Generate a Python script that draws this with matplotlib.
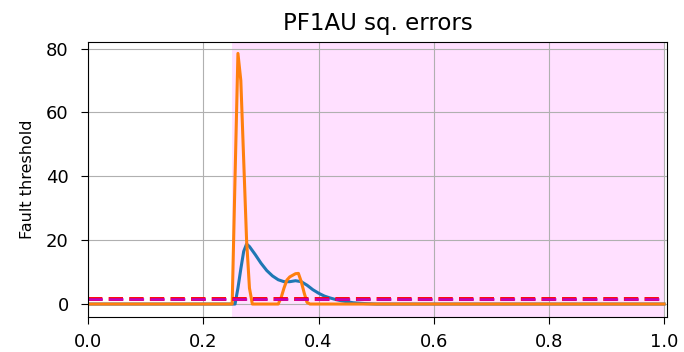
import matplotlib.pyplot as plt

# squared errors of the two models over normalised time
t_a = [0.0, 0.25, 0.255, 0.26, 0.265, 0.27, 0.275, 0.28, 0.29, 0.30, 0.31, 0.32, 0.33,
       0.34, 0.35, 0.36, 0.37, 0.38, 0.39, 0.40, 0.41, 0.42, 0.43, 0.44, 0.45, 0.46,
       0.48, 0.50, 1.0]
err_a = [0.0, 0.0, 0.0, 5.0, 11.0, 16.5, 18.8, 18.0, 15.5, 12.8, 10.5, 8.8, 7.6,
         7.0, 7.0, 7.3, 7.0, 5.9, 4.5, 3.4, 2.5, 1.9, 1.4, 1.0, 0.7, 0.4,
         0.15, 0.0, 0.0]

t_b = [0.0, 0.25, 0.255, 0.26, 0.265, 0.27, 0.275, 0.28, 0.285, 0.33, 0.335, 0.34,
       0.345, 0.35, 0.355, 0.36, 0.365, 0.37, 0.375, 0.38, 0.385, 1.0]
err_b = [0.0, 0.0, 40.0, 78.5, 70.0, 45.0, 20.0, 5.0, 0.0, 0.0, 2.0, 5.0,
         7.5, 8.5, 9.0, 9.5, 9.6, 7.0, 3.5, 0.5, 0.0, 0.0]

threshold = 1.5
fault_start, fault_end = 0.25, 1.0

fig, ax = plt.subplots(figsize=(6.84, 3.52), dpi=100)
ax.axvspan(fault_start, fault_end, color='magenta', alpha=0.12, lw=0)
ax.plot(t_a, err_a, color='#1f77b4', lw=2.2)
ax.plot(t_b, err_b, color='#ff7f0e', lw=2.2)
# threshold: red dashes with a magenta core, same dash rhythm
ax.axhline(threshold, xmax=1.0 / 1.005, color='red', ls='--', lw=2.8)
ax.axhline(threshold, xmax=1.0 / 1.005, color='m', lw=1.8,
           dashes=(3.7 * 2.8 / 1.8, 1.6 * 2.8 / 1.8))

ax.set_xlim(0, 1.005)
ax.set_ylim(-4, 82)
ax.set_yticks([0, 20, 40, 60, 80])
ax.grid(True)
ax.set_title('PF1AU sq. errors', fontsize=16.5, pad=9)
ax.set_ylabel('Fault threshold', fontsize=11.5, labelpad=8)
ax.tick_params(axis='x', labelsize=13, pad=7, length=5)
ax.tick_params(axis='y', labelsize=13, pad=9, length=5)

fig.subplots_adjust(left=0.129, right=0.975, top=0.88, bottom=0.1)
fig.savefig('out.png')
